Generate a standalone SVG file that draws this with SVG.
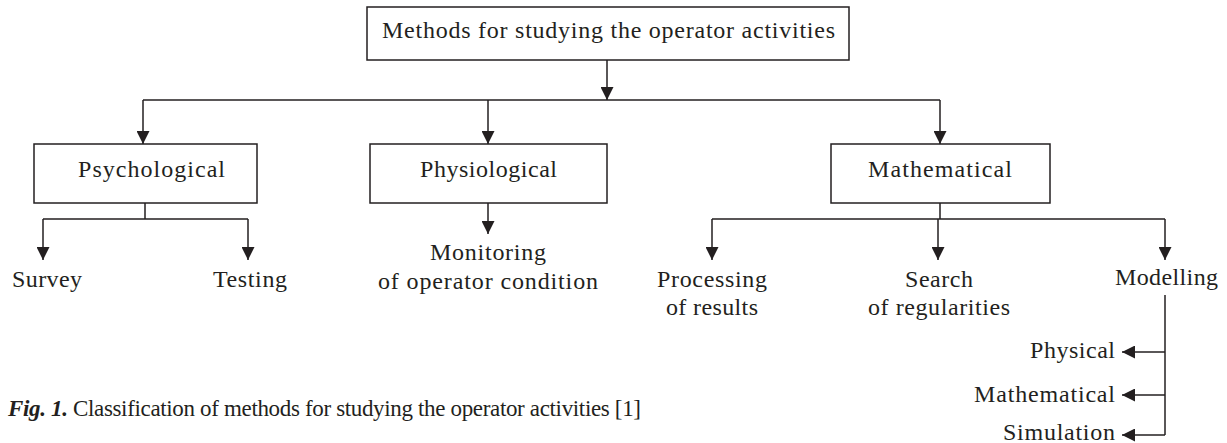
<svg xmlns="http://www.w3.org/2000/svg" width="1227" height="443" viewBox="0 0 1227 443">
<style>
.box{fill:#fff;stroke:#231f20;stroke-width:1.5}
.ln{fill:none;stroke:#231f20;stroke-width:1.5}
text{font-family:"Liberation Serif","DejaVu Serif",serif;font-size:24px;fill:#231f20}
.cap{font-size:23px}
</style>
<defs>
<marker id="ah" markerWidth="13" markerHeight="13" refX="13" refY="6.5" orient="auto" markerUnits="userSpaceOnUse">
<path d="M0,0 L13,6.5 L0,13 Z" fill="#231f20"/>
</marker>
</defs>
<rect width="1227" height="443" fill="#fff"/>
<g id="connectors">
<path class="ln" d="M607,60 V100" marker-end="url(#ah)"/>
<path class="ln" d="M143,100 H940"/>
<path class="ln" d="M143,100 V144" marker-end="url(#ah)"/>
<path class="ln" d="M488,100 V144" marker-end="url(#ah)"/>
<path class="ln" d="M940,100 V144" marker-end="url(#ah)"/>
<path class="ln" d="M145,203 V219 M43,219 H248"/>
<path class="ln" d="M43,219 V260" marker-end="url(#ah)"/>
<path class="ln" d="M248,219 V260" marker-end="url(#ah)"/>
<path class="ln" d="M488,203 V234" marker-end="url(#ah)"/>
<path class="ln" d="M940,203 V219 M712,219 H1165"/>
<path class="ln" d="M712,219 V260" marker-end="url(#ah)"/>
<path class="ln" d="M938,219 V260" marker-end="url(#ah)"/>
<path class="ln" d="M1165,219 V260" marker-end="url(#ah)"/>
<path class="ln" d="M1165,295 V435"/>
<path class="ln" d="M1165,352 H1122" marker-end="url(#ah)"/>
<path class="ln" d="M1165,395 H1122" marker-end="url(#ah)"/>
<path class="ln" d="M1165,435 H1122" marker-end="url(#ah)"/>
</g>
<g id="root"><rect class="box" x="367" y="7" width="482" height="53"/><text x="382" y="38" textLength="453">Methods for studying the operator activities</text></g>
<g id="psychological"><rect class="box" x="34" y="144" width="223" height="59"/><text x="78" y="177" textLength="147">Psychological</text></g>
<g id="physiological"><rect class="box" x="370" y="144" width="237" height="59"/><text x="420" y="177" textLength="137">Physiological</text></g>
<g id="mathematical"><rect class="box" x="831" y="144" width="219" height="59"/><text x="868" y="177" textLength="144">Mathematical</text></g>
<g id="survey"><text x="12" y="287" textLength="70">Survey</text></g>
<g id="testing"><text x="213" y="287" textLength="74">Testing</text></g>
<g id="monitoring"><text x="430" y="260" textLength="116">Monitoring</text><text x="378" y="289" textLength="220">of operator condition</text></g>
<g id="processing"><text x="657" y="287" textLength="110">Processing</text><text x="666" y="315" textLength="92">of results</text></g>
<g id="search"><text x="905" y="287" textLength="68">Search</text><text x="868" y="315" textLength="142">of regularities</text></g>
<g id="modelling"><text x="1115" y="285" textLength="103">Modelling</text></g>
<g id="physical"><text x="1030" y="358" textLength="85">Physical</text></g>
<g id="mathematical2"><text x="974" y="402" textLength="141">Mathematical</text></g>
<g id="simulation"><text x="1003" y="440" textLength="112">Simulation</text></g>
<text class="cap" x="8" y="416" textLength="633"><tspan font-weight="bold" font-style="italic">Fig. 1.</tspan> Classification of methods for studying the operator activities [1]</text>
</svg>
